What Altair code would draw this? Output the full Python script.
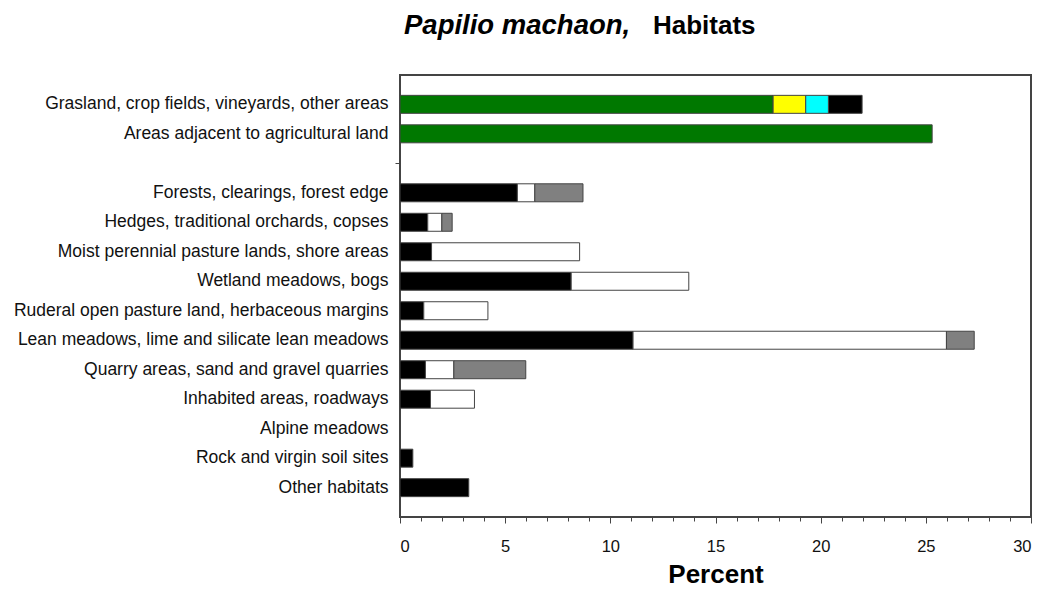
import altair as alt
import pandas as pd

categories = [
    "Grasland, crop fields, vineyards, other areas",
    "Areas adjacent to agricultural land",
    " ",
    "Forests, clearings, forest edge",
    "Hedges, traditional orchards, copses",
    "Moist perennial pasture lands, shore areas",
    "Wetland meadows, bogs",
    "Ruderal open pasture land, herbaceous margins",
    "Lean meadows, lime and silicate lean meadows",
    "Quarry areas, sand and gravel quarries",
    "Inhabited areas, roadways",
    "Alpine meadows",
    "Rock and virgin soil sites",
    "Other habitats",
]
green_vals  = [17.74, 25.30, 0, 0,    0,    0,    0,    0,    0,     0,    0,    0, 0,    0]
yellow_vals = [1.55,  0,     0, 0,    0,    0,    0,    0,    0,     0,    0,    0, 0,    0]
cyan_vals   = [1.08,  0,     0, 0,    0,    0,    0,    0,    0,     0,    0,    0, 0,    0]
black_vals  = [1.60,  0,     0, 5.58, 1.32, 1.50, 8.14, 1.13, 11.08, 1.21, 1.45, 0, 0.61, 3.27]
white_vals  = [0,     0,     0, 0.83, 0.67, 7.04, 5.59, 3.05, 14.90, 1.35, 2.09, 0, 0,    0]
gray_vals   = [0,     0,     0, 2.29, 0.49, 0,    0,    0,    1.32,  3.42, 0,    0, 0,    0]

segments = ["green", "yellow", "cyan", "black", "white", "gray"]
seg_colors = ["#007800", "#ffff00", "#00ffff", "#000000", "#ffffff", "#808080"]
series = [green_vals, yellow_vals, cyan_vals, black_vals, white_vals, gray_vals]

title_italic = "Papilio machaon,"
title_rest = "Habitats"
x_ticks = list(range(0, 31))

rows = []
for si, (seg, vals) in enumerate(zip(segments, series)):
    for cat, v in zip(categories, vals):
        rows.append({"habitat": cat, "segment": seg, "order": si, "value": v})
df = pd.DataFrame(rows)

FONT = "Liberation Sans"

bars = alt.Chart(df).transform_filter("datum.value > 0").mark_bar(
    stroke="#444", strokeWidth=1
).encode(
    y=alt.Y("habitat:N", sort=categories,
            scale=alt.Scale(domain=categories, paddingInner=0.39, paddingOuter=0.69),
            axis=alt.Axis(title=None, domain=False, tickSize=5,
                          tickColor=alt.condition("datum.value === ' '", alt.value("#444"), alt.value("transparent")),
                          labelFont=FONT, labelFontSize=17.5, labelColor="#111",
                          labelPadding=7, labelLimit=420)),
    x=alt.X("value:Q", stack="zero",
            scale=alt.Scale(domain=[0, 30], nice=False),
            axis=alt.Axis(values=x_ticks, grid=False, domain=False,
                          labelExpr="datum.value % 5 === 0 ? datum.label : ''",
                          tickSize=alt.condition("datum.value % 5 === 0", alt.value(6), alt.value(4)),
                          tickColor="#444",
                          labelFont=FONT, labelFontSize=16.5, labelColor="#111", labelPadding=15,
                          title="Percent", titleFont=FONT, titleFontSize=26, titleFontWeight="bold",
                          titleColor="#000", titleBaseline="alphabetic", titleY=65)),
    color=alt.Color("segment:N", scale=alt.Scale(domain=segments, range=seg_colors), legend=None),
    order=alt.Order("order:Q", sort="ascending"),
)

tdf = pd.DataFrame({"a": [1]})
t1 = alt.Chart(tdf).mark_text(text=title_italic, font=FONT, fontSize=27.5, fontWeight="bold",
                              fontStyle="italic", align="left", baseline="alphabetic", color="#000").encode(
    x=alt.value(4), y=alt.value(-41))
t2 = alt.Chart(tdf).mark_text(text=title_rest, font=FONT, fontSize=26, fontWeight="bold",
                              align="left", baseline="alphabetic", color="#000").encode(
    x=alt.value(253), y=alt.value(-41))

chart = alt.layer(bars, t1, t2).properties(
    width=631, height=442,
    background="white",
    autosize=alt.AutoSizeParams(type="none"),
    padding={"left": 392, "top": 67, "right": 6, "bottom": 71},
).configure_view(stroke="#444", strokeWidth=2)

chart.save("out.html", embed_options={"renderer": "svg", "actions": False})
